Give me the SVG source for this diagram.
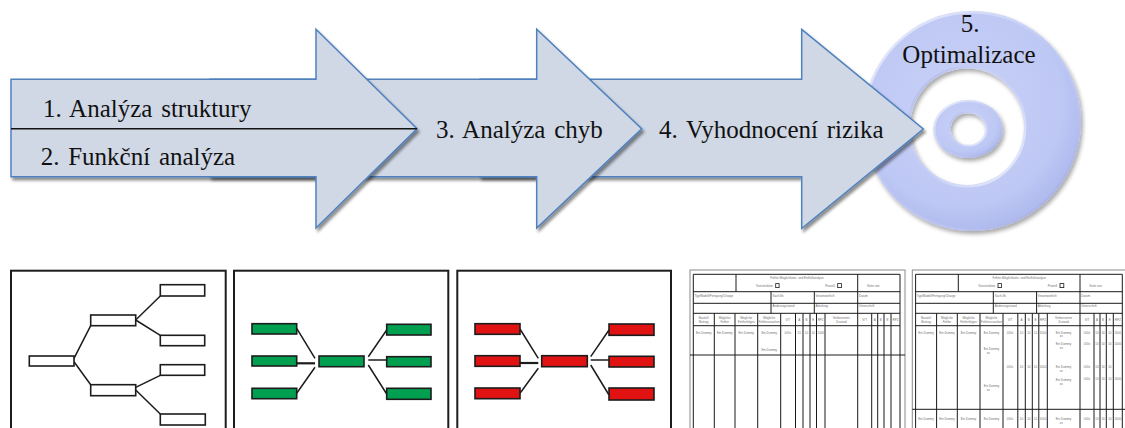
<svg xmlns="http://www.w3.org/2000/svg" xmlns:xlink="http://www.w3.org/1999/xlink" width="1125" height="428" viewBox="0 0 1125 428">
  <style>
    .arrow { fill: #d0d8e6; stroke: #4f81bd; stroke-width: 1.5; stroke-linejoin: miter; }
    .lbl { font-family: "Liberation Serif", "Times New Roman", serif; font-size: 25px; fill: #111; word-spacing: 2.5px; }
    .panel { fill: #fff; stroke: #1c1c1c; stroke-width: 2; }
    .box { stroke: #1c1c1c; stroke-width: 1.6; }
    .wbox { fill: #fff; }
    .gbox { fill: #00a050; }
    .rbox { fill: #e01212; }
    .link { fill: none; stroke: #1c1c1c; stroke-width: 1.5; }
    .frm { fill: none; stroke: #1a1a1a; stroke-width: 1; }
    .frm-out { fill: #fff; stroke: #8a8a8a; stroke-width: 1; }
    .ft { font-family: "Liberation Sans", Arial, sans-serif; font-size: 3px; fill: #707070; }
    .fc { text-anchor: middle; }
    .chk { fill: #fff; stroke: #1a1a1a; stroke-width: 0.8; }
  </style>
  <defs>
    <filter id="shadow" x="-10%" y="-10%" width="125%" height="130%">
      <feGaussianBlur in="SourceAlpha" stdDeviation="1.6"/>
      <feOffset dx="2" dy="3" result="b"/>
      <feComponentTransfer><feFuncA type="linear" slope="0.45"/></feComponentTransfer>
      <feMerge><feMergeNode/><feMergeNode in="SourceGraphic"/></feMerge>
    </filter>
    <filter id="soft" x="-10%" y="-10%" width="125%" height="125%">
      <feGaussianBlur in="SourceAlpha" stdDeviation="2"/>
      <feOffset dx="2" dy="3"/>
      <feComponentTransfer><feFuncA type="linear" slope="0.35"/></feComponentTransfer>
      <feMerge><feMergeNode/><feMergeNode in="SourceGraphic"/></feMerge>
    </filter>
    <radialGradient id="ringFill" cx="0.45" cy="0.42" r="0.62">
      <stop offset="0" stop-color="#c9d1f7"/>
      <stop offset="0.75" stop-color="#bec8f4"/>
      <stop offset="1" stop-color="#aab5ec"/>
    </radialGradient>
    <linearGradient id="rimLight" x1="0" y1="0" x2="1" y2="1">
      <stop offset="0" stop-color="#ffffff" stop-opacity="0.7"/>
      <stop offset="0.5" stop-color="#ffffff" stop-opacity="0.05"/>
      <stop offset="1" stop-color="#7f8dcc" stop-opacity="0.6"/>
    </linearGradient>
    <linearGradient id="rimDark" x1="0" y1="0" x2="1" y2="1">
      <stop offset="0" stop-color="#7f8dcc" stop-opacity="0.5"/>
      <stop offset="0.5" stop-color="#ffffff" stop-opacity="0.05"/>
      <stop offset="1" stop-color="#ffffff" stop-opacity="0.7"/>
    </linearGradient>

    <!-- shared FMEA sheet grid -->
    <g id="sheet">
      <rect class="frm-out" x="690" y="270" width="215" height="165"/>
      <path class="frm" d="M693.3 433V274.3H900V433
        M693.3 291.7H900 M693.3 303.3H900 M693.3 313.3H900 M693.3 325.7H900
        M736 274.3V291.7 M857.7 274.3V313.3 M771 291.7V313.3 M814.3 291.7V313.3
        M714.3 313.3V433 M735 313.3V433 M757.7 313.3V433 M780.7 313.3V433
        M795.5 313.3V433 M803 313.3V433 M810 313.3V433 M816.5 313.3V433 M825 313.3V433
        M857.7 313.3V433 M871.7 313.3V433 M877.7 313.3V433 M884 313.3V433 M891 313.3V433"/>
      <text class="ft fc" x="797" y="279">Fehler-Möglichkeits- und Einflußanalyse</text>
      <text class="ft" x="773" y="287" text-anchor="end">Konstruktion</text>
      <rect class="chk" x="775.7" y="283.6" width="3.4" height="4"/>
      <text class="ft" x="835" y="287" text-anchor="end">Prozeß</text>
      <rect class="chk" x="837.7" y="283.6" width="3.8" height="4"/>
      <text class="ft" x="867" y="286.5">Seite von</text>
      <text class="ft" x="694.5" y="296.5">Typ/Modell/Fertigung/Charge</text>
      <text class="ft" x="772.5" y="296.5">Sach-Nr.</text>
      <text class="ft" x="815.5" y="296.5">Verantwortlich</text>
      <text class="ft" x="859" y="296.5">Datum</text>
      <text class="ft" x="772.5" y="306.5">Änderungsstand</text>
      <text class="ft" x="815.5" y="306.5">Abteilung</text>
      <text class="ft" x="859" y="306.5">Unterschrift</text>
      <g class="ft fc">
        <text x="703.8" y="318.5">Bauteil/</text><text x="703.8" y="322.8">Beitrag</text>
        <text x="724.7" y="318.5">Mögliche</text><text x="724.7" y="322.8">Fehler</text>
        <text x="746.3" y="318.5">Mögliche</text><text x="746.3" y="322.8">Fehlerfolgen</text>
        <text x="769.2" y="318.5">Mögliche</text><text x="769.2" y="322.8">Fehlerursachen</text>
        <text x="787.8" y="320.6">V/T</text>
        <text x="799.2" y="320.6">A</text>
        <text x="806.5" y="320.6">B</text>
        <text x="813.2" y="320.6">E</text>
        <text x="820.7" y="320.6">RPZ</text>
        <text x="841.3" y="318.5">Verbesserter</text><text x="841.3" y="322.8">Zustand</text>
        <text x="864.7" y="320.6">V/T</text>
        <text x="874.7" y="320.6">A</text>
        <text x="880.8" y="320.6">B</text>
        <text x="887.5" y="320.6">E</text>
        <text x="895.5" y="320.6">RPZ</text>
      </g>
      <g class="ft fc">
        <text x="703.8" y="333.5">Ein Dummy</text>
        <text x="724.7" y="333.5">Ein Dummy</text>
        <text x="746.3" y="333.5">Ein Dummy</text>
        <text x="769.2" y="334">Ein Dummy</text>
        <text x="787.8" y="333.5">0/0/x</text>
        <text x="799.2" y="333.5">10</text>
        <text x="806.5" y="333.5">10</text>
        <text x="813.2" y="333.5">10</text>
        <text x="820.7" y="333.5">1000</text>
      </g>
    </g>
  </defs>

  <!-- step 5: optimisation ring -->
  <g id="node-optimalizace">
    <g filter="url(#soft)">
      <path d="M863 121a109 110 0 1 0 218 0a109 110 0 1 0-218 0Z M910 126.7a57 58.3 0 1 1 114 0a57 58.3 0 1 1-114 0Z" fill="url(#ringFill)" fill-rule="evenodd"/>
    </g>
    <ellipse cx="972" cy="121" rx="107.8" ry="108.8" fill="none" stroke="url(#rimLight)" stroke-width="2.5"/>
    <ellipse cx="967" cy="126.7" rx="58.2" ry="59.5" fill="none" stroke="url(#rimDark)" stroke-width="2.5"/>
    <g filter="url(#soft)">
      <path d="M933.3 129a34.7 29 0 1 0 69.4 0a34.7 29 0 1 0-69.4 0Z M950.7 129a17.3 15.8 0 1 1 34.6 0a17.3 15.8 0 1 1-34.6 0Z" fill="url(#ringFill)" fill-rule="evenodd"/>
    </g>
    <ellipse cx="968" cy="129" rx="33.6" ry="27.9" fill="none" stroke="url(#rimLight)" stroke-width="2"/>
    <ellipse cx="968" cy="129" rx="18.3" ry="16.8" fill="none" stroke="url(#rimDark)" stroke-width="2"/>
    <text class="lbl" x="970" y="32" text-anchor="middle">5.</text>
    <text class="lbl" x="969" y="63" text-anchor="middle">Optimalizace</text>
  </g>

  <!-- step 4: risk evaluation -->
  <g id="node-vyhodnoceni">
    <polygon class="arrow" filter="url(#shadow)" points="480,79.3 801.7,79.3 801.7,29.3 923.3,129 801.7,228.5 801.7,176.7 480,176.7"/>
    <text class="lbl" x="659" y="138.3">4. Vyhodnocení rizika</text>
  </g>

  <!-- step 3: failure analysis -->
  <g id="node-analyza-chyb">
    <polygon class="arrow" filter="url(#shadow)" points="210,79.3 536.7,79.3 536.7,29.3 641.7,128.7 536.7,228 536.7,176.7 210,176.7"/>
    <text class="lbl" x="436" y="138.3">3. Analýza chyb</text>
  </g>

  <!-- steps 1 + 2: structure and function analysis -->
  <g id="node-struktura-funkce">
    <polygon class="arrow" filter="url(#shadow)" points="11,79.3 316,79.3 316,29.3 417,128.7 316,228 316,176.7 11,176.7"/>
    <text class="lbl" x="43" y="116.7">1. Analýza struktury</text>
    <text class="lbl" x="40.7" y="165">2. Funkční analýza</text>
  </g>
  <g id="connectors">
    <line x1="11" y1="128.7" x2="417" y2="128.7" stroke="#111" stroke-width="1.6"/>
  </g>

  <!-- panel: structure tree -->
  <g id="panel-struktura">
    <rect class="panel" x="11" y="270.7" width="214.7" height="170"/>
    <g class="link">
      <path d="M74 358.3L90.7 325.7 M74 361.7L90.7 384.7"/>
      <path d="M135.7 320L160.3 296 M135.7 320L160.3 335.3"/>
      <path d="M135.7 387.3L160.3 375.3 M135.7 390L160.3 414"/>
    </g>
    <g class="box wbox">
      <rect x="29.3" y="356" width="44.7" height="10"/>
      <rect x="90.7" y="315" width="45" height="10.7"/>
      <rect x="90.7" y="384.7" width="45" height="11"/>
      <rect x="160.3" y="284.7" width="44.4" height="11.3"/>
      <rect x="160.3" y="335.3" width="44.4" height="10.4"/>
      <rect x="160.3" y="364.7" width="44.4" height="10.6"/>
      <rect x="160.3" y="414" width="45" height="11"/>
    </g>
  </g>

  <!-- panel: function net (green) -->
  <g id="panel-funkce">
    <rect class="panel" x="234" y="270.7" width="214.3" height="170"/>
    <g class="link">
      <path d="M296.7 328.3L315 358.3 M296.7 393.3L315 367.3"/>
      <path d="M296.7 363.3H315" stroke-width="2.2"/>
      <path d="M368.3 356.7L386.7 330 M368.3 360H386.7 M368.3 365L386.7 394"/>
    </g>
    <g class="box gbox">
      <rect x="252" y="323.7" width="44.7" height="10.3"/>
      <rect x="252" y="356" width="44.7" height="10"/>
      <rect x="252" y="388.3" width="44.7" height="10.4"/>
      <rect x="319" y="356" width="45" height="10.7"/>
      <rect x="386.7" y="324.3" width="44.3" height="10.7"/>
      <rect x="386.7" y="356.7" width="44.3" height="10"/>
      <rect x="386.7" y="388.3" width="44.3" height="11"/>
    </g>
  </g>

  <!-- panel: failure net (red) -->
  <g id="panel-chyby">
    <rect class="panel" x="457.3" y="270.7" width="213.7" height="170"/>
    <g class="link">
      <path d="M520 329L538.3 358.3 M520 393.3L538.3 368.3"/>
      <path d="M520 363H538.3" stroke-width="2.2"/>
      <path d="M590.7 356.7L609 330 M590.7 360H609 M590.7 365L609 395"/>
    </g>
    <g class="box rbox">
      <rect x="475" y="323.7" width="45" height="10.6"/>
      <rect x="475" y="355.7" width="45" height="10.6"/>
      <rect x="475" y="388" width="45" height="10.7"/>
      <rect x="541.7" y="355.7" width="45.6" height="11"/>
      <rect x="609" y="324" width="45" height="11.3"/>
      <rect x="609" y="356.3" width="45" height="10.7"/>
      <rect x="609" y="388" width="45" height="12"/>
    </g>
  </g>

  <!-- FMEA sheet, blank -->
  <g id="sheet-prazdny">
    <use xlink:href="#sheet"/>
    <path class="frm" d="M690 355H905"/>
    <text class="ft fc" x="769.2" y="351">Ein Dummy</text>
  </g>

  <!-- FMEA sheet, filled in -->
  <g id="sheet-vyplneny" transform="translate(222.3 0)">
    <use xlink:href="#sheet"/>
    <path class="frm" d="M690 409.3H905"/>
    <g class="ft fc">
      <text x="841.3" y="333.5">Ein Dummy</text><text x="839" y="337">xx</text>
      <text x="864.7" y="333.5">0/0/x</text><text x="874.7" y="333.5">10</text><text x="880.8" y="333.5">10</text><text x="887.5" y="333.5">10</text><text x="895.5" y="333.5">1000</text>
      <text x="769.2" y="350">Ein Dummy</text><text x="766" y="353.5">xx</text>
      <text x="841.3" y="345">Ein Dummy</text><text x="839" y="348.5">xx</text>
      <text x="864.7" y="345">0/0/x</text><text x="874.7" y="345">10</text><text x="880.8" y="345">10</text><text x="887.5" y="345">10</text><text x="895.5" y="345">1000</text>
      <text x="787.8" y="368">0/0/x</text><text x="799.2" y="368">10</text><text x="806.5" y="368">10</text><text x="813.2" y="368">10</text><text x="820.7" y="368">1000</text>
      <text x="841.3" y="368">Ein Dummy</text><text x="839" y="371.5">xx</text>
      <text x="864.7" y="368">0/0/x</text><text x="874.7" y="368">10</text><text x="880.8" y="368">10</text><text x="887.5" y="368">10</text>
      <text x="841.3" y="381">Ein Dummy</text><text x="839" y="384.5">xx</text>
      <text x="864.7" y="380">0/0/x</text><text x="874.7" y="380">10</text><text x="880.8" y="380">10</text><text x="887.5" y="380">10</text><text x="895.5" y="380">1000</text>
      <text x="769.2" y="387">Ein Dummy</text><text x="766" y="390.5">xx</text>
      <text x="703.8" y="420">Ein Dummy</text><text x="724.7" y="420">Ein Dummy</text><text x="746.3" y="420">Ein Dummy</text><text x="769.2" y="420">Ein Dummy</text>
      <text x="787.8" y="420">0/0/x</text><text x="799.2" y="420">10</text><text x="806.5" y="420">10</text><text x="813.2" y="420">10</text><text x="820.7" y="420">1000</text>
      <text x="841.3" y="420">Ein Dummy</text><text x="839" y="423.5">xx</text>
      <text x="864.7" y="420">0/0/x</text><text x="874.7" y="420">10</text><text x="880.8" y="420">10</text><text x="887.5" y="420">10</text><text x="895.5" y="420">1000</text>
    </g>
  </g>
</svg>
